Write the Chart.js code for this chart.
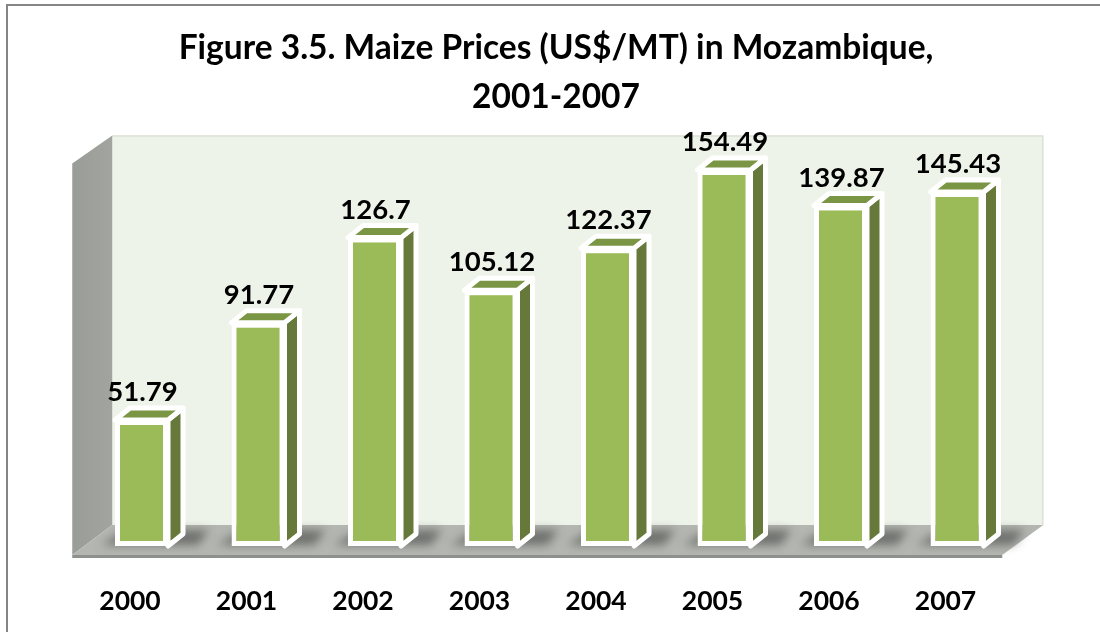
<!DOCTYPE html>
<html>
<head>
<meta charset="utf-8">
<script src="https://cdn.jsdelivr.net/npm/chart.js@4/dist/chart.umd.min.js"></script>
<style>
html,body{margin:0;padding:0;background:#fff;}
#wrap{width:1100px;height:632px;position:relative;}
</style>
</head>
<body>
<div id="wrap"><canvas id="c" width="1100" height="632"></canvas></div>
<script>
// ---- data ----
const categories = ['2000', '2001', '2002', '2003', '2004', '2005', '2006', '2007'];
const prices = [51.79, 91.77, 126.7, 105.12, 122.37, 154.49, 139.87, 145.43];
const valueLabels = ['51.79', '91.77', '126.7', '105.12', '122.37', '154.49', '139.87', '145.43'];
const titleLines = ['Figure 3.5. Maize Prices (US$/MT) in Mozambique,', '2001-2007'];
const yMin = 0;
const yMax = 160;

// ---- 3D look helpers ----
const DEPTH = {dx: 15, dy: -12};

function poly(ctx, pts) {
  ctx.beginPath();
  ctx.moveTo(pts[0][0], pts[0][1]);
  for (let i = 1; i < pts.length; i++) ctx.lineTo(pts[i][0], pts[i][1]);
  ctx.closePath();
}

const scene3d = {
  id: 'scene3d',
  beforeDraw(chart) {
    const {ctx, chartArea: a} = chart;
    ctx.save();
    ctx.fillStyle = '#ffffff';
    ctx.fillRect(0, 0, chart.width, chart.height);
    // outer frame
    ctx.strokeStyle = '#858585';
    ctx.lineWidth = 2;
    ctx.strokeRect(7, 5, chart.width + 20, chart.height + 20);

    const FL = a.left - 11, FR = a.right - 13, FB = a.bottom + 9, FT = a.top + 7;
    const BL = a.left + 29, BR = a.right + 28, BB = a.bottom - 21, BT = a.top - 21;
    // back wall
    ctx.fillStyle = '#eef3e9';
    ctx.fillRect(BL, BT, BR - BL, BB - BT);
    ctx.strokeStyle = '#dde2d8';
    ctx.lineWidth = 1.5;
    ctx.beginPath();
    ctx.moveTo(BL, BT + 0.5); ctx.lineTo(BR - 0.5, BT + 0.5); ctx.lineTo(BR - 0.5, BB);
    ctx.stroke();
    // side wall
    const sg = ctx.createLinearGradient(FL, 0, BL, 0);
    sg.addColorStop(0, '#9a9c97');
    sg.addColorStop(1, '#a2a49f');
    ctx.fillStyle = sg;
    poly(ctx, [[FL, FT], [BL, BT], [BL, BB], [FL, FB]]);
    ctx.fill();
    // floor
    ctx.fillStyle = '#b4b7b1';
    poly(ctx, [[FL, FB], [BL, BB], [BR, BB], [FR, FB]]);
    ctx.fill();
    ctx.fillStyle = '#8e908c';
    ctx.fillRect(FL, FB, FR - FL, 3);
    ctx.restore();
  },
  beforeDatasetsDraw(chart) {
    const ctx = chart.ctx;
    const meta = chart.getDatasetMeta(0);
    ctx.save();
    ctx.filter = 'blur(5px)';
    ctx.fillStyle = 'rgba(55,55,55,0.55)';
    meta.data.forEach((bar) => {
      const {x, base, width} = bar.getProps(['x', 'base', 'width'], true);
      const l = x - width / 2, r = x + width / 2;
      poly(ctx, [[l - 14, base - 1], [l + DEPTH.dx - 4, base - 16], [r + DEPTH.dx + 26, base - 16], [r + 30, base - 1]]);
      ctx.fill();
    });
    ctx.restore();
  },
  afterDatasetsDraw(chart) {
    const ctx = chart.ctx;
    const meta = chart.getDatasetMeta(0);
    const {dx, dy} = DEPTH;
    meta.data.forEach((bar, i) => {
      const {x, y, base, width} = bar.getProps(['x', 'y', 'base', 'width'], true);
      const l = x - width / 2, r = x + width / 2;
      ctx.save();
      ctx.lineJoin = 'round';
      ctx.strokeStyle = '#ffffff';
      ctx.lineWidth = 5;
      // side face
      poly(ctx, [[r, y], [r + dx, y + dy], [r + dx, base + dy], [r, base]]);
      ctx.fillStyle = '#66793a';
      ctx.fill();
      ctx.stroke();
      // top face
      poly(ctx, [[l, y], [l + dx, y + dy], [r + dx, y + dy], [r, y]]);
      ctx.fillStyle = '#7a9543';
      ctx.fill();
      ctx.stroke();
      ctx.restore();
      // value label
      ctx.save();
      ctx.font = 'bold 27.5px Lato';
      ctx.fillStyle = '#000000';
      ctx.textAlign = 'center';
      ctx.textBaseline = 'alphabetic';
      ctx.fillText(valueLabels[i], x + 1, y - 19);
      ctx.restore();
    });
  }
};

Chart.defaults.font.family = 'Lato';

new Chart(document.getElementById('c'), {
  type: 'bar',
  data: {
    labels: categories,
    datasets: [{
      data: prices,
      backgroundColor: '#9bbb59',
      borderColor: '#ffffff',
      borderWidth: 5,
      borderSkipped: false,
      barPercentage: 1,
      categoryPercentage: 0.455,
      yAxisID: 'y'
    }]
  },
  options: {
    responsive: false,
    animation: false,
    events: [],
    layout: {padding: {top: 0, left: 12, right: 0, bottom: 0}},
    plugins: {
      legend: {display: false},
      tooltip: {enabled: false},
      title: {
        display: true,
        text: titleLines,
        color: '#000000',
        font: {family: 'Lato', weight: 'bold', size: 33.5, lineHeight: '49px'},
        padding: {top: 23.5, bottom: 35.06}
      }
    },
    scales: {
      x: {
        grid: {display: false, drawTicks: false},
        border: {display: false},
        ticks: {
          color: '#000000',
          font: {family: 'Lato', weight: 'bold', size: 26.5, lineHeight: 1.2},
          padding: 40,
          labelOffset: -11.5,
          maxRotation: 0,
          autoSkip: false
        },
        afterFit(scale) { scale.height = 86; }
      },
      y: {
        position: 'left',
        min: yMin,
        max: yMax,
        grid: {display: false, drawTicks: false},
        border: {display: false},
        ticks: {display: false},
        afterFit(scale) { scale.width = 71.25; }
      },
      y2: {
        position: 'right',
        min: yMin,
        max: yMax,
        grid: {display: false, drawTicks: false},
        border: {display: false},
        ticks: {display: false},
        afterFit(scale) { scale.width = 84.75; }
      }
    }
  },
  plugins: [scene3d]
});
</script>
</body>
</html>
